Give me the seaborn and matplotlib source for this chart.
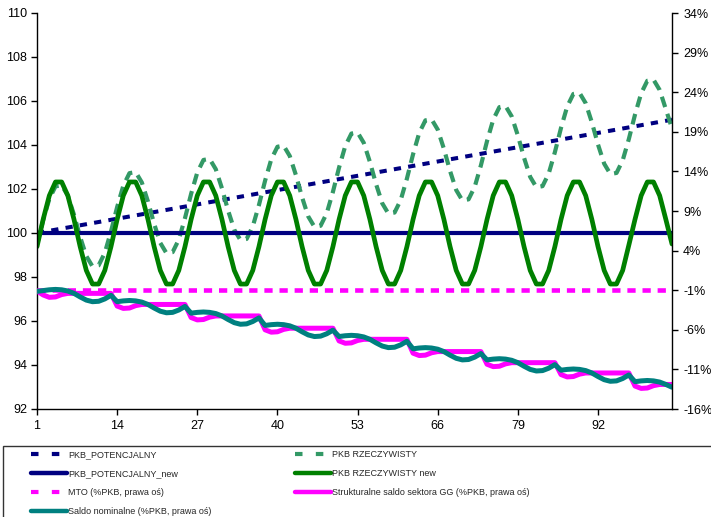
import matplotlib
matplotlib.use("Agg")
import matplotlib.pyplot as plt
from matplotlib.lines import Line2D
from matplotlib.patches import Rectangle
import seaborn as sns

sns.set_style("white")
plt.rcParams['font.family'] = ['Liberation Sans', 'DejaVu Sans']

# --- data --------------------------------------------------------------
periods = list(range(1, 105))
x_ticks = [1, 14, 27, 40, 53, 66, 79, 92]
left_ticks = [92, 94, 96, 98, 100, 102, 104, 106, 108, 110]
right_ticks = [-16, -11, -6, -1, 4, 9, 14, 19, 24, 29, 34]

pkb_potencjalny = [
    100.00, 100.05, 100.10, 100.15, 100.20, 100.25, 100.30, 100.35, 100.40, 100.45, 100.50, 100.55, 100.60,
    100.65, 100.70, 100.75, 100.80, 100.85, 100.90, 100.95, 101.00, 101.05, 101.10, 101.15, 101.20, 101.25,
    101.30, 101.35, 101.40, 101.45, 101.50, 101.55, 101.60, 101.65, 101.70, 101.75, 101.80, 101.85, 101.90,
    101.95, 102.00, 102.05, 102.10, 102.15, 102.20, 102.25, 102.30, 102.35, 102.40, 102.45, 102.50, 102.55,
    102.60, 102.65, 102.70, 102.75, 102.80, 102.85, 102.90, 102.95, 103.00, 103.05, 103.10, 103.15, 103.20,
    103.25, 103.30, 103.35, 103.40, 103.45, 103.50, 103.55, 103.60, 103.65, 103.70, 103.75, 103.80, 103.85,
    103.90, 103.95, 104.00, 104.05, 104.10, 104.15, 104.20, 104.25, 104.30, 104.35, 104.40, 104.45, 104.50,
    104.55, 104.60, 104.65, 104.70, 104.75, 104.80, 104.85, 104.90, 104.95, 105.00, 105.05, 105.10, 105.15,
]

pkb_rzeczywisty = [
    99.47, 100.58, 101.55, 102.12, 102.17, 101.70, 100.83, 99.82, 98.95, 98.48, 98.53, 99.10, 100.07,
    101.18, 102.15, 102.72, 102.77, 102.30, 101.43, 100.42, 99.55, 99.08, 99.13, 99.70, 100.67, 101.78,
    102.75, 103.32, 103.37, 102.90, 102.03, 101.02, 100.15, 99.68, 99.73, 100.30, 101.27, 102.38, 103.35,
    103.92, 103.97, 103.50, 102.63, 101.62, 100.75, 100.28, 100.33, 100.90, 101.87, 102.98, 103.95, 104.52,
    104.57, 104.10, 103.23, 102.22, 101.35, 100.88, 100.93, 101.50, 102.47, 103.58, 104.55, 105.12, 105.17,
    104.70, 103.83, 102.82, 101.95, 101.48, 101.53, 102.10, 103.07, 104.18, 105.15, 105.72, 105.77, 105.30,
    104.43, 103.42, 102.55, 102.08, 102.13, 102.70, 103.67, 104.78, 105.75, 106.32, 106.37, 105.90, 105.03,
    104.02, 103.15, 102.68, 102.73, 103.30, 104.27, 105.38, 106.35, 106.92, 106.97, 106.50, 105.63, 104.75,
]

pkb_potencjalny_new = [
    100.0, 100.0, 100.0, 100.0, 100.0, 100.0, 100.0, 100.0, 100.0, 100.0, 100.0, 100.0, 100.0,
    100.0, 100.0, 100.0, 100.0, 100.0, 100.0, 100.0, 100.0, 100.0, 100.0, 100.0, 100.0, 100.0,
    100.0, 100.0, 100.0, 100.0, 100.0, 100.0, 100.0, 100.0, 100.0, 100.0, 100.0, 100.0, 100.0,
    100.0, 100.0, 100.0, 100.0, 100.0, 100.0, 100.0, 100.0, 100.0, 100.0, 100.0, 100.0, 100.0,
    100.0, 100.0, 100.0, 100.0, 100.0, 100.0, 100.0, 100.0, 100.0, 100.0, 100.0, 100.0, 100.0,
    100.0, 100.0, 100.0, 100.0, 100.0, 100.0, 100.0, 100.0, 100.0, 100.0, 100.0, 100.0, 100.0,
    100.0, 100.0, 100.0, 100.0, 100.0, 100.0, 100.0, 100.0, 100.0, 100.0, 100.0, 100.0, 100.0,
    100.0, 100.0, 100.0, 100.0, 100.0, 100.0, 100.0, 100.0, 100.0, 100.0, 100.0, 100.0, 100.0,
]

pkb_rzeczywisty_new = [
    99.38, 100.62, 101.70, 102.32, 102.32, 101.70, 100.62, 99.38, 98.30, 97.68, 97.68, 98.30,
    99.38, 100.62, 101.70, 102.32, 102.32, 101.70, 100.62, 99.38, 98.30, 97.68, 97.68, 98.30,
    99.38, 100.62, 101.70, 102.32, 102.32, 101.70, 100.62, 99.38, 98.30, 97.68, 97.68, 98.30,
    99.38, 100.62, 101.70, 102.32, 102.32, 101.70, 100.62, 99.38, 98.30, 97.68, 97.68, 98.30,
    99.38, 100.62, 101.70, 102.32, 102.32, 101.70, 100.62, 99.38, 98.30, 97.68, 97.68, 98.30,
    99.38, 100.62, 101.70, 102.32, 102.32, 101.70, 100.62, 99.38, 98.30, 97.68, 97.68, 98.30,
    99.38, 100.62, 101.70, 102.32, 102.32, 101.70, 100.62, 99.38, 98.30, 97.68, 97.68, 98.30,
    99.38, 100.62, 101.70, 102.32, 102.32, 101.70, 100.62, 99.38, 98.30, 97.68, 97.68, 98.30,
    99.45, 100.62, 101.70, 102.32, 102.32, 101.70, 100.62, 99.50,
]

# right axis, % of GDP
mto = [
    -1.0, -1.0, -1.0, -1.0, -1.0, -1.0, -1.0, -1.0, -1.0, -1.0, -1.0, -1.0, -1.0,
    -1.0, -1.0, -1.0, -1.0, -1.0, -1.0, -1.0, -1.0, -1.0, -1.0, -1.0, -1.0, -1.0,
    -1.0, -1.0, -1.0, -1.0, -1.0, -1.0, -1.0, -1.0, -1.0, -1.0, -1.0, -1.0, -1.0,
    -1.0, -1.0, -1.0, -1.0, -1.0, -1.0, -1.0, -1.0, -1.0, -1.0, -1.0, -1.0, -1.0,
    -1.0, -1.0, -1.0, -1.0, -1.0, -1.0, -1.0, -1.0, -1.0, -1.0, -1.0, -1.0, -1.0,
    -1.0, -1.0, -1.0, -1.0, -1.0, -1.0, -1.0, -1.0, -1.0, -1.0, -1.0, -1.0, -1.0,
    -1.0, -1.0, -1.0, -1.0, -1.0, -1.0, -1.0, -1.0, -1.0, -1.0, -1.0, -1.0, -1.0,
    -1.0, -1.0, -1.0, -1.0, -1.0, -1.0, -1.0, -1.0, -1.0, -1.0, -1.0, -1.0, -1.0,
]

saldo_strukturalne = [
    -1.10,
    -1.60, -1.90, -1.85, -1.55, -1.40, -1.40, -1.40, -1.40, -1.40, -1.40, -1.40, -1.40,
    -3.00, -3.30, -3.25, -2.95, -2.80, -2.80, -2.80, -2.80, -2.80, -2.80, -2.80, -2.80,
    -4.45, -4.75, -4.70, -4.40, -4.25, -4.25, -4.25, -4.25, -4.25, -4.25, -4.25, -4.25,
    -6.00, -6.30, -6.25, -5.95, -5.80, -5.80, -5.80, -5.80, -5.80, -5.80, -5.80, -5.80,
    -7.40, -7.70, -7.65, -7.35, -7.20, -7.20, -7.20, -7.20, -7.20, -7.20, -7.20, -7.20,
    -8.95, -9.25, -9.20, -8.90, -8.75, -8.75, -8.75, -8.75, -8.75, -8.75, -8.75, -8.75,
    -10.35, -10.65, -10.60, -10.30, -10.15, -10.15, -10.15, -10.15, -10.15, -10.15, -10.15, -10.15,
    -11.65, -11.95, -11.90, -11.60, -11.45, -11.45, -11.45, -11.45, -11.45, -11.45, -11.45, -11.45,
    -13.10, -13.40, -13.35, -13.05, -12.90, -12.90, -12.90,
]

saldo_nominalne = [
    -1.15,
    -1.05, -0.95, -0.90, -0.95, -1.10, -1.40, -1.85, -2.25, -2.45, -2.40, -2.10, -1.65,
    -2.45, -2.35, -2.30, -2.35, -2.50, -2.80, -3.25, -3.65, -3.85, -3.80, -3.50, -3.05,
    -3.90, -3.80, -3.75, -3.80, -3.95, -4.25, -4.70, -5.10, -5.30, -5.25, -4.95, -4.50,
    -5.45, -5.35, -5.30, -5.35, -5.50, -5.80, -6.25, -6.65, -6.85, -6.80, -6.50, -6.05,
    -6.85, -6.75, -6.70, -6.75, -6.90, -7.20, -7.65, -8.05, -8.25, -8.20, -7.90, -7.45,
    -8.40, -8.30, -8.25, -8.30, -8.45, -8.75, -9.20, -9.60, -9.80, -9.75, -9.45, -9.00,
    -9.80, -9.70, -9.65, -9.70, -9.85, -10.15, -10.60, -11.00, -11.20, -11.15, -10.85, -10.40,
    -11.10, -11.00, -10.95, -11.00, -11.15, -11.45, -11.90, -12.30, -12.50, -12.45, -12.15, -11.70,
    -12.55, -12.45, -12.40, -12.45, -12.60, -12.90, -13.25,
]

NAVY = '#000080'
SEA = '#339966'
GREEN = '#008000'
MAGENTA = '#FF00FF'
TEAL = '#008080'

W, H = 711, 517
fig = plt.figure(figsize=(W / 100, H / 100), dpi=100)
ax = fig.add_axes([37 / W, 1 - 409 / H, (672 - 37) / W, (409 - 13) / H])
ax2 = ax.twinx()

# left axis series
sns.lineplot(x=periods, y=pkb_potencjalny, ax=ax, color=NAVY, linewidth=2.9, legend=False)
ax.lines[-1].set_dashes([1.8, 1.8])
sns.lineplot(x=periods, y=pkb_rzeczywisty, ax=ax, color=SEA, linewidth=3.0, legend=False)
ax.lines[-1].set_dashes([2.6, 1.7])
sns.lineplot(x=periods, y=pkb_potencjalny_new, ax=ax, color=NAVY, linewidth=3.0, legend=False)
sns.lineplot(x=periods, y=pkb_rzeczywisty_new, ax=ax, color=GREEN, linewidth=3.4, legend=False)

# right axis series
sns.lineplot(x=periods, y=mto, ax=ax2, color=MAGENTA, linewidth=3.3, legend=False)
ax2.lines[-1].set_dashes([1.8, 1.5])
sns.lineplot(x=periods, y=saldo_strukturalne, ax=ax2, color=MAGENTA, linewidth=3.6, legend=False)
sns.lineplot(x=periods, y=saldo_nominalne, ax=ax2, color=TEAL, linewidth=3.6, legend=False)

for a in (ax, ax2):
    for ln in a.lines:
        ln.set_solid_joinstyle('round')
        ln.set_dash_capstyle('butt')

ax.set_xlim(1, 104)
ax.set_ylim(92, 110)
ax.set_yticks(left_ticks)
ax.set_yticklabels([str(v) for v in left_ticks])
ax.set_xticks(x_ticks)
ax.set_xticklabels([str(v) for v in x_ticks])
ax2.set_ylim(-16, 34)
ax2.set_yticks(right_ticks)
ax2.set_yticklabels([f'{v}%' for v in right_ticks])
ax.set_xlabel('')
ax.set_ylabel('')
ax2.set_ylabel('')

for a in (ax, ax2):
    for side in ('left', 'right', 'top', 'bottom'):
        a.spines[side].set_visible(False)
ax.spines['left'].set_visible(True)
ax.spines['bottom'].set_visible(True)
ax2.spines['right'].set_visible(True)
for sp in (ax.spines['left'], ax.spines['bottom'], ax2.spines['right']):
    sp.set_color('black')
    sp.set_linewidth(1.0)

ax.tick_params(axis='y', direction='out', length=4, width=1, labelsize=9, pad=3, colors='black', left=True)
ax.tick_params(axis='x', direction='out', length=4, width=1, labelsize=9, pad=4, colors='black', bottom=True)
ax2.tick_params(axis='y', direction='out', length=4, width=1, labelsize=9, pad=4, colors='black', right=True)
ax.grid(False)
ax2.grid(False)

# legend box below the plot
fig.patches.append(Rectangle((3 / W, -0.05), 1.0, (517 - 446) / H + 0.05, transform=fig.transFigure,
                             fill=False, edgecolor='#333333', linewidth=1.0))

handles = [
    Line2D([], [], color=NAVY, linewidth=3.0, dashes=[1.8, 3.2]),
    Line2D([], [], color=NAVY, linewidth=3.2),
    Line2D([], [], color=MAGENTA, linewidth=3.0, dashes=[1.8, 3.2]),
    Line2D([], [], color=TEAL, linewidth=3.2),
    Line2D([], [], color=SEA, linewidth=3.0, dashes=[1.8, 3.2]),
    Line2D([], [], color=GREEN, linewidth=3.2),
    Line2D([], [], color=MAGENTA, linewidth=3.2),
]
labels = [
    'PKB_POTENCJALNY',
    'PKB_POTENCJALNY_new',
    'MTO (%PKB, prawa oś)',
    'Saldo nominalne (%PKB, prawa oś)',
    'PKB RZECZYWISTY',
    'PKB RZECZYWISTY new',
    'Strukturalne saldo sektora GG (%PKB, prawa oś)',
]
fig.legend(handles, labels, loc='upper left', bbox_to_anchor=(31 / W, 1 - 450 / H),
           bbox_transform=fig.transFigure, ncol=2, frameon=False, fontsize=6.5,
           handlelength=4.0, handletextpad=0.1, columnspacing=9.3, labelspacing=1.12,
           borderpad=0, borderaxespad=0)

fig.savefig('out.png', dpi=100)
